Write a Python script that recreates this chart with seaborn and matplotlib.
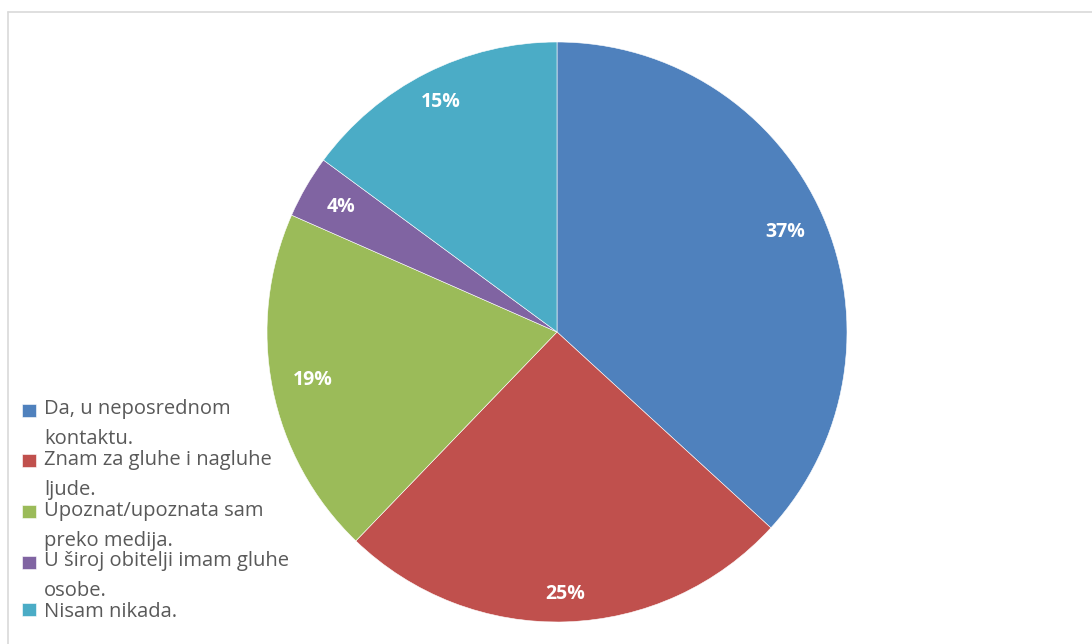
import matplotlib
matplotlib.use('Agg')
import matplotlib.pyplot as plt
import seaborn as sns
import numpy as np
from matplotlib.lines import Line2D
from matplotlib.patches import Rectangle
from matplotlib.legend_handler import HandlerPatch

sns.set_theme(style='white')
plt.rcParams['font.family'] = ['Open Sans', 'DejaVu Sans']

# survey answers (share of respondents)
categories = [
    'Da, u neposrednom\nkontaktu.',
    'Znam za gluhe i nagluhe\nljude.',
    'Upoznat/upoznata sam\npreko medija.',
    'U široj obitelji imam gluhe\nosobe.',
    'Nisam nikada.',
]
shares = [36.8, 25.4, 19.4, 3.5, 14.9]
colors = ['#4F81BD', '#C0504D', '#9BBB59', '#8064A2', '#4BACC6']

# how far out each percentage label sits (fraction of radius)
label_dist = [0.86, 0.905, 0.86, 0.86, 0.89]

fig = plt.figure(figsize=(10.92, 6.44), dpi=100)

# pie area: centre ~(557, 332) px, radius ~290 px
ax = fig.add_axes([267 / 1092, (644 - 622) / 644, 580 / 1092, 580 / 644])
wedges, texts, autotexts = ax.pie(
    shares, colors=colors, startangle=90, counterclock=False,
    autopct='%.0f%%', pctdistance=0.86, radius=1,
    wedgeprops=dict(edgecolor='white', linewidth=0.4),
    textprops=dict(color='white', fontsize=14, fontweight='bold'),
)
for w, t, d in zip(wedges, autotexts, label_dist):
    mid = np.deg2rad((w.theta1 + w.theta2) / 2)
    t.set_position((d * np.cos(mid), d * np.sin(mid)))
ax.set_xlim(-1, 1)
ax.set_ylim(-1, 1)
ax.set_aspect('equal')
ax.axis('off')


# Excel puts the legend square next to the first line of a wrapped label
class FirstLineHandler(HandlerPatch):
    def __init__(self, shift):
        super().__init__()
        self.shift = shift

    def create_artists(self, legend, orig_handle, xdescent, ydescent,
                       width, height, fontsize, trans):
        p = Rectangle((-xdescent, -ydescent + self.shift), width, height)
        self.update_prop(p, orig_handle, legend)
        p.set_transform(trans)
        return [p]


handler_map = {}
for w, lab in zip(wedges, categories):
    handler_map[w] = FirstLineHandler(shift=10.4 * lab.count('\n'))

leg = fig.legend(
    wedges, categories, loc='lower left', bbox_to_anchor=(12 / 1092, 12 / 644),
    frameon=False, fontsize=14.5, handlelength=0.68, handleheight=0.62,
    handletextpad=0.4, labelspacing=0.03, borderpad=0, handler_map=handler_map,
)
for t in leg.get_texts():
    t.set_color('#595959')
    t.set_linespacing(1.67)

# light chart frame (left and top edges visible)
fig.add_artist(Line2D([8 / 1092, 8 / 1092], [0, 632 / 644], color='#D9D9D9', lw=1.2))
fig.add_artist(Line2D([8 / 1092, 1], [632 / 644, 632 / 644], color='#D9D9D9', lw=1.2))

fig.savefig('out.png', dpi=100)
